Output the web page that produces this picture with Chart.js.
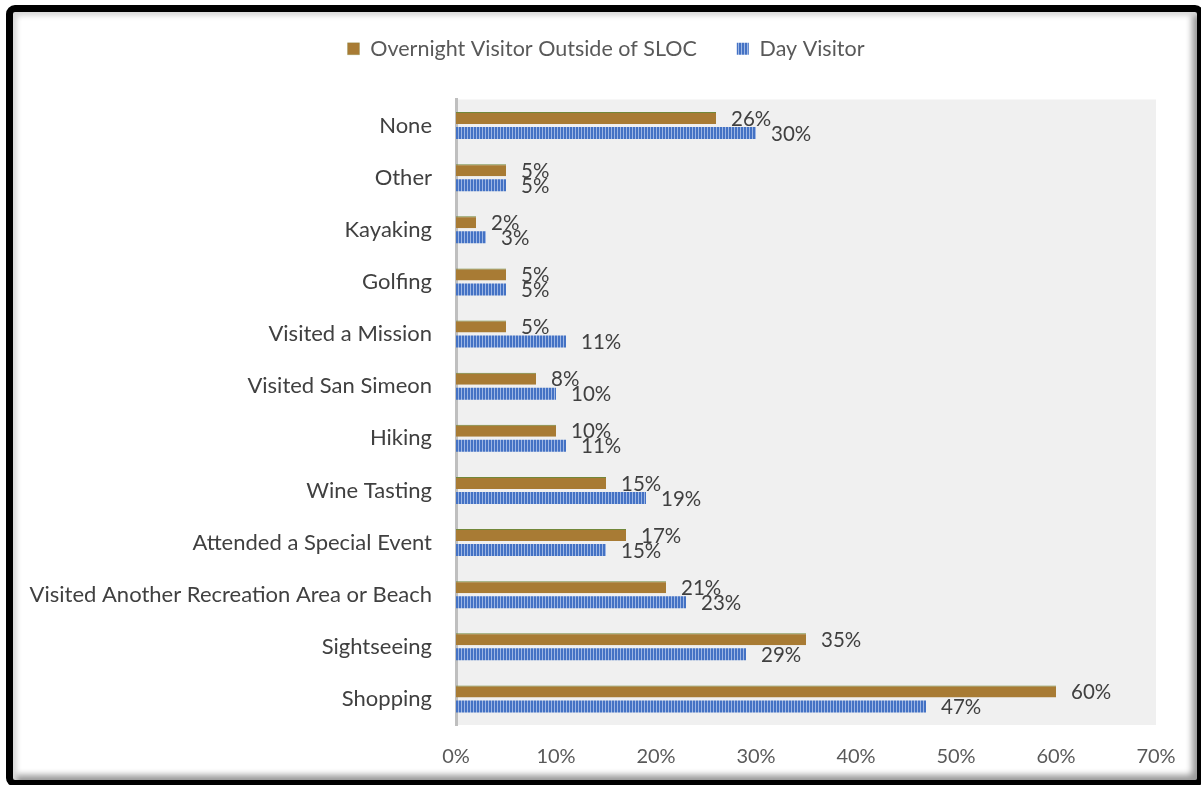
<!DOCTYPE html>
<html>
<head>
<meta charset="utf-8">
<script src="https://cdn.jsdelivr.net/npm/chart.js@4.4.1/dist/chart.umd.min.js"></script>
<style>
  html, body { margin: 0; padding: 0; background: #fff; }
  #wrap { position: relative; width: 1201px; height: 785px; overflow: hidden; }
  #chart { position: absolute; left: 0; top: 0; }
  #frame {
    position: absolute; left: 6px; top: 5px; right: -3px; bottom: -2px;
    border: 7px solid #000; border-radius: 9px;
    box-shadow: inset 6px 6px 5px -2px #d9d9d9, inset -7px -7px 6px -2px #9a9a9a;
    pointer-events: none;
  }
</style>
</head>
<body>
<div id="wrap">
  <canvas id="chart" width="1201" height="785"></canvas>
  <div id="frame"></div>
</div>
<script>
// ---- data ----
const CATEGORIES = ['None', 'Other', 'Kayaking', 'Golfing', 'Visited a Mission',
                    'Visited San Simeon', 'Hiking', 'Wine Tasting', 'Attended a Special Event',
                    'Visited Another Recreation Area or Beach', 'Sightseeing', 'Shopping'];
const OVERNIGHT  = [26, 5, 2, 5, 5, 8, 10, 15, 17, 21, 35, 60];
const DAY        = [30, 5, 3, 5, 11, 10, 11, 19, 15, 23, 29, 47];
const SERIES     = ['Overnight Visitor Outside of SLOC', 'Day Visitor'];
const X_MAX      = 70;
const X_STEP     = 10;

const FONT = 'Lato, "Open Sans", sans-serif';

// striped fill for the day visitor bars
function stripePattern() {
  const c = document.createElement('canvas');
  c.width = 3; c.height = 4;
  const g = c.getContext('2d');
  g.fillStyle = '#4472C4';
  g.fillRect(0, 0, 2, 4);
  g.fillStyle = '#9DB6E4';
  g.fillRect(2, 0, 1, 4);
  return g.createPattern(c, 'repeat');
}

const areaBg = {
  id: 'areaBg',
  beforeDraw(chart) {
    const a = chart.chartArea, ctx = chart.ctx;
    ctx.save();
    ctx.fillStyle = '#F0F0F0';
    ctx.fillRect(a.left, a.top, a.right - a.left, a.bottom - a.top);
    ctx.restore();
  }
};

const barLabels = {
  id: 'barLabels',
  afterDatasetsDraw(chart) {
    const ctx = chart.ctx;
    ctx.save();
    ctx.font = '20.5px ' + FONT;
    ctx.fillStyle = '#404040';
    ctx.textAlign = 'left';
    ctx.textBaseline = 'middle';
    chart.data.datasets.forEach((ds, i) => {
      chart.getDatasetMeta(i).data.forEach((bar, j) => {
        ctx.fillText(ds.data[j] + '%', bar.x + 15, bar.y + 1);
      });
    });
    ctx.restore();
  }
};

// extra room under the legend, and nudge it right like the original
const legendTweak = {
  id: 'legendTweak',
  beforeInit(chart) {
    const lg = chart.legend;
    const fit = lg.fit;
    lg.fit = function () {
      fit.call(this);
      this.height += 30;
    };
    const draw = lg.draw;
    lg.draw = function () {
      const ctx = chart.ctx;
      ctx.save();
      ctx.translate(28, 0);
      draw.apply(this, arguments);
      ctx.restore();
    };
  }
};

new Chart(document.getElementById('chart'), {
  type: 'bar',
  data: {
    labels: CATEGORIES,
    datasets: [
      { label: SERIES[0], data: OVERNIGHT, backgroundColor: '#A87B34',
        borderColor: '#72873A', borderWidth: { top: 1, right: 0, bottom: 0, left: 0 },
        borderSkipped: false, categoryPercentage: 0.574, barPercentage: 0.8 },
      { label: SERIES[1], data: DAY, backgroundColor: stripePattern(),
        borderWidth: 0, categoryPercentage: 0.574, barPercentage: 0.8 }
    ]
  },
  options: {
    indexAxis: 'y',
    responsive: false,
    animation: false,
    layout: { padding: { top: -2, right: 45, bottom: 14, left: 0 } },
    plugins: {
      legend: {
        position: 'top',
        labels: { boxWidth: 12, boxHeight: 12, padding: 40, color: '#595959',
                  font: { family: FONT, size: 21.5 } }
      },
      tooltip: { enabled: false }
    },
    scales: {
      x: {
        min: 0, max: X_MAX,
        ticks: { stepSize: X_STEP, color: '#595959', padding: 12,
                 font: { family: FONT, size: 20 }, callback: v => v + '%' },
        grid: { display: false },
        border: { display: false },
        afterFit: s => { s.height = 46; }
      },
      y: {
        ticks: { color: '#404040', padding: 24, font: { family: FONT, size: 22 } },
        grid: { display: false, drawTicks: false },
        border: { display: true, color: '#BFBFBF', width: 3 },
        afterFit: s => { s.width = 456; }
      }
    }
  },
  plugins: [areaBg, barLabels, legendTweak]
});
</script>
</body>
</html>
